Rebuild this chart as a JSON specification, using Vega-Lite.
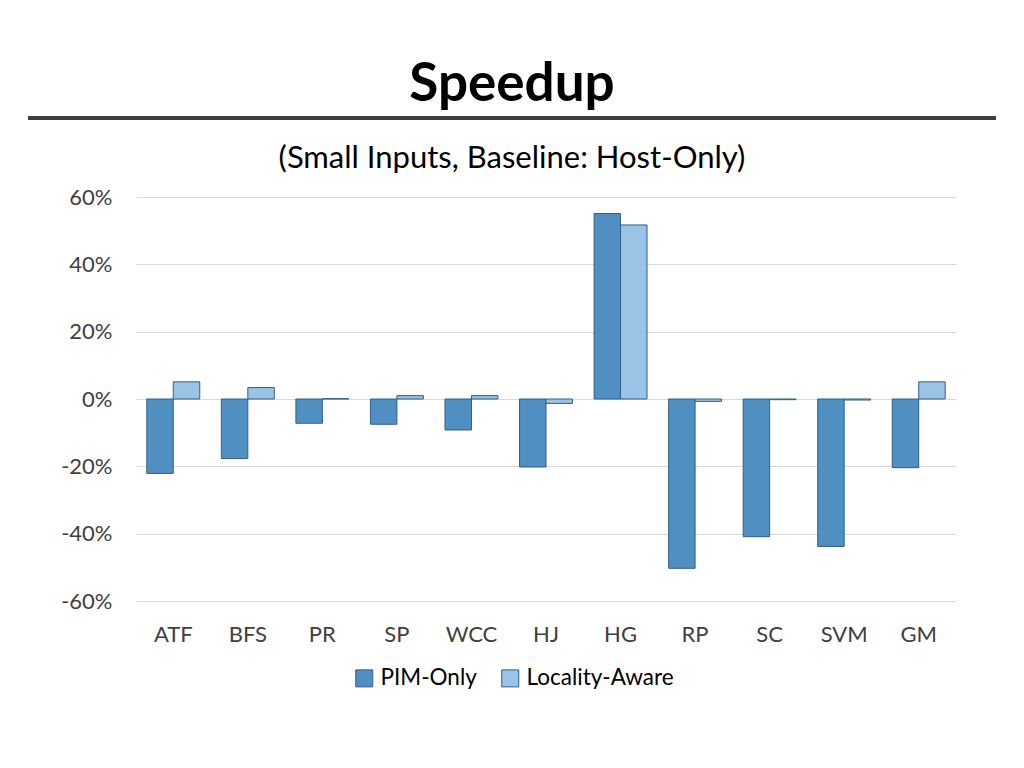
{
  "$schema": "https://vega.github.io/schema/vega-lite/v6.json",
  "autosize": {"type": "none"},
  "padding": {"left": 136, "top": 197, "right": 68, "bottom": 167},
  "width": 820,
  "height": 404,
  "background": "white",
  "config": {
    "font": "Lato",
    "view": {"stroke": null}
  },
  "title": {
    "text": "Speedup",
    "subtitle": "(Small Inputs, Baseline: Host-Only)",
    "anchor": "middle",
    "dx": -34,
    "font": "Lato",
    "fontSize": 53,
    "fontWeight": "bold",
    "color": "#000000",
    "subtitleFont": "Lato",
    "subtitleFontSize": 31,
    "subtitleColor": "#000000",
    "subtitlePadding": 32,
    "offset": -58
  },
  "data": {
    "values": [
      {"bench": "ATF", "config": "PIM-Only", "speedup": -0.221},
      {"bench": "ATF", "config": "Locality-Aware", "speedup": 0.051},
      {"bench": "BFS", "config": "PIM-Only", "speedup": -0.177},
      {"bench": "BFS", "config": "Locality-Aware", "speedup": 0.034},
      {"bench": "PR", "config": "PIM-Only", "speedup": -0.072},
      {"bench": "PR", "config": "Locality-Aware", "speedup": 0.001},
      {"bench": "SP", "config": "PIM-Only", "speedup": -0.075},
      {"bench": "SP", "config": "Locality-Aware", "speedup": 0.010},
      {"bench": "WCC", "config": "PIM-Only", "speedup": -0.092},
      {"bench": "WCC", "config": "Locality-Aware", "speedup": 0.010},
      {"bench": "HJ", "config": "PIM-Only", "speedup": -0.202},
      {"bench": "HJ", "config": "Locality-Aware", "speedup": -0.013},
      {"bench": "HG", "config": "PIM-Only", "speedup": 0.551},
      {"bench": "HG", "config": "Locality-Aware", "speedup": 0.517},
      {"bench": "RP", "config": "PIM-Only", "speedup": -0.503},
      {"bench": "RP", "config": "Locality-Aware", "speedup": -0.007},
      {"bench": "SC", "config": "PIM-Only", "speedup": -0.409},
      {"bench": "SC", "config": "Locality-Aware", "speedup": -0.002},
      {"bench": "SVM", "config": "PIM-Only", "speedup": -0.438},
      {"bench": "SVM", "config": "Locality-Aware", "speedup": -0.003},
      {"bench": "GM", "config": "PIM-Only", "speedup": -0.204},
      {"bench": "GM", "config": "Locality-Aware", "speedup": 0.051}
    ]
  },
  "layer": [
    {
      "mark": {"type": "bar", "stroke": "#2f5f8c", "strokeWidth": 1},
      "encoding": {
        "x": {
          "field": "bench",
          "type": "nominal",
          "sort": null,
          "scale": {"paddingInner": 0.29, "paddingOuter": 0.145},
          "axis": {
            "title": null,
            "orient": "bottom",
            "labelAngle": 0,
            "labelFontSize": 22,
            "labelColor": "#404040",
            "labelPadding": 23,
            "domain": false,
            "ticks": false,
            "grid": false
          }
        },
        "xOffset": {
          "field": "config",
          "type": "nominal",
          "sort": ["PIM-Only", "Locality-Aware"],
          "scale": {"paddingInner": 0, "paddingOuter": 0}
        },
        "y": {
          "field": "speedup",
          "type": "quantitative",
          "scale": {"domain": [-0.6, 0.6], "nice": false, "zero": false},
          "axis": {
            "title": null,
            "values": [-0.6, -0.4, -0.2, 0, 0.2, 0.4, 0.6],
            "labelExpr": "(datum.value < 0 ? '-' : '') + format(abs(datum.value), '.0%')",
            "labelFontSize": 22,
            "labelColor": "#404040",
            "labelPadding": 24,
            "domain": false,
            "ticks": false,
            "grid": true,
            "gridColor": "#d9d9d9",
            "gridWidth": 1
          }
        },
        "color": {
          "field": "config",
          "type": "nominal",
          "sort": ["PIM-Only", "Locality-Aware"],
          "scale": {"domain": ["PIM-Only", "Locality-Aware"], "range": ["#4f8fc2", "#9bc3e6"]},
          "legend": {
            "title": null,
            "orient": "none",
            "direction": "horizontal",
            "legendX": 217,
            "legendY": 470,
            "symbolType": "square",
            "symbolSize": 289,
            "symbolStrokeColor": "#2f5f8c",
            "symbolStrokeWidth": 1,
            "labelFontSize": 22.5,
            "labelColor": "#000000",
            "labelOffset": 5,
            "columnPadding": 22
          }
        }
      }
    },
    {
      "mark": {"type": "rule", "color": "#3f3f3f", "strokeWidth": 4},
      "encoding": {
        "y": {"datum": 0.835},
        "x": {"value": -108},
        "x2": {"value": 860}
      }
    }
  ]
}
